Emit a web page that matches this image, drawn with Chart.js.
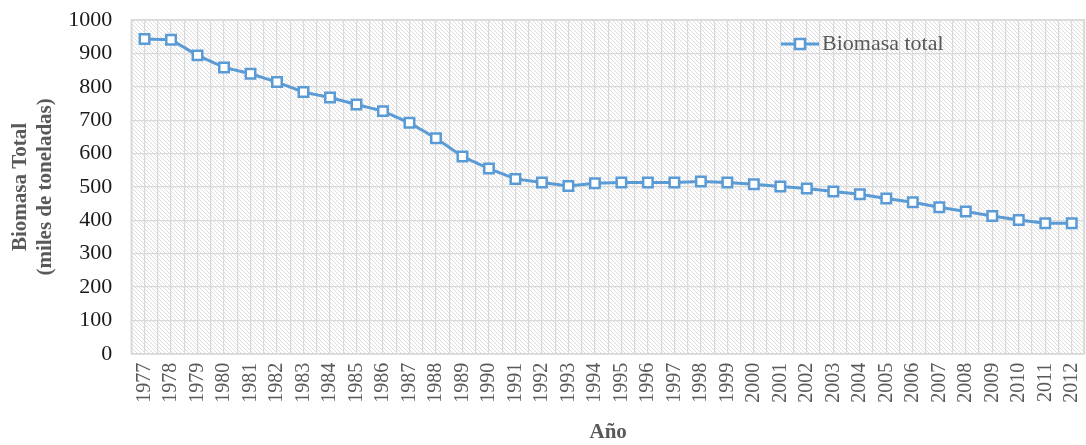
<!DOCTYPE html>
<html>
<head>
<meta charset="utf-8">
<script src="https://cdn.jsdelivr.net/npm/chart.js@4.4.1/dist/chart.umd.min.js"></script>
<style>
  html, body { margin: 0; padding: 0; background: #fff; }
  #wrap { width: 1086px; height: 445px; }
</style>
</head>
<body>
<div id="wrap"><canvas id="chart"></canvas></div>
<script>
// ==========================================
// Data
// ==========================================
const YEARS = [
  1977, 1978, 1979, 1980, 1981, 1982, 1983, 1984, 1985, 1986,
  1987, 1988, 1989, 1990, 1991, 1992, 1993, 1994, 1995, 1996,
  1997, 1998, 1999, 2000, 2001, 2002, 2003, 2004, 2005, 2006,
  2007, 2008, 2009, 2010, 2011, 2012
];
const BIOMASA = [
  943, 941, 894, 858, 839, 814, 784, 768, 747, 727,
  692, 646, 591, 555, 524, 513, 503, 511, 513, 513,
  513, 516, 513, 508, 501, 495, 486, 478, 465, 454,
  439, 426, 413, 401, 391, 391
];
const SERIES_LABEL = 'Biomasa total';
const Y_TITLE = ['Biomasa Total', '(miles de toneladas)'];
const X_TITLE = 'Año';

const BLUE = '#5B9BD5';
const GRID = '#d9d9d9';
const GREY_TEXT = '#595959';
const SERIF = "'Liberation Serif', 'Times New Roman', serif";

// ==========================================
// Plugins: fondo rayado, marco, leyenda interior
// ==========================================
function hatchPattern(ctx) {
  const c = document.createElement('canvas');
  c.width = 4; c.height = 4;
  const p = c.getContext('2d');
  p.fillStyle = '#ffffff';
  p.fillRect(0, 0, 4, 4);
  p.strokeStyle = '#dddddd';
  p.lineWidth = 1;
  p.beginPath();
  p.moveTo(-1, -1); p.lineTo(5, 5);
  p.moveTo(-1, 3); p.lineTo(1, 5);
  p.moveTo(3, -1); p.lineTo(5, 1);
  p.stroke();
  return ctx.createPattern(c, 'repeat');
}

const plotBackground = {
  id: 'plotBackground',
  beforeDraw(chart) {
    const { ctx, chartArea: a } = chart;
    ctx.save();
    ctx.fillStyle = hatchPattern(ctx);
    ctx.fillRect(a.left, a.top, a.width, a.height);
    ctx.restore();
  },
  beforeDatasetsDraw(chart) {
    const { ctx, chartArea: a } = chart;
    ctx.save();
    ctx.strokeStyle = GRID;
    ctx.lineWidth = 1.5;
    ctx.strokeRect(a.left, a.top, a.width - 1, a.height);
    ctx.restore();
  }
};

const innerLegend = {
  id: 'innerLegend',
  afterDraw(chart) {
    const { ctx } = chart;
    const ds = chart.data.datasets[0];
    const x = 781, y = 44;
    ctx.save();
    ctx.strokeStyle = ds.borderColor;
    ctx.lineWidth = 3;
    ctx.beginPath();
    ctx.moveTo(x, y); ctx.lineTo(x + 38, y);
    ctx.stroke();
    ctx.fillStyle = '#fff';
    ctx.lineWidth = 2.5;
    ctx.fillRect(x + 14, y - 5, 10, 10);
    ctx.strokeRect(x + 14, y - 5, 10, 10);
    ctx.fillStyle = GREY_TEXT;
    ctx.font = '22px ' + SERIF;
    ctx.textBaseline = 'middle';
    ctx.fillText(ds.label, x + 41, y);
    ctx.restore();
  }
};

// ==========================================
// Chart
// ==========================================
const points = YEARS.map((yr, i) => ({ x: yr, y: BIOMASA[i] }));

new Chart(document.getElementById('chart'), {
  type: 'line',
  data: {
    datasets: [{
      label: SERIES_LABEL,
      data: points,
      borderColor: BLUE,
      borderWidth: 3,
      tension: 0,
      pointStyle: 'rect',
      pointRadius: 6.7,
      pointBorderWidth: 2.5,
      pointBorderColor: BLUE,
      pointBackgroundColor: '#ffffff',
      fill: false
    }]
  },
  options: {
    responsive: true,
    maintainAspectRatio: false,
    animation: false,
    layout: { autoPadding: false, padding: { top: 20, right: 1, left: 9, bottom: 0 } },
    plugins: {
      legend: { display: false },
      tooltip: { enabled: false }
    },
    scales: {
      x: {
        type: 'linear',
        min: YEARS[0] - 0.5,
        max: YEARS[YEARS.length - 1] + 0.5,
        afterFit(scale) { scale.paddingLeft = 0; scale.paddingRight = 0; },
        grid: { color: GRID, drawTicks: false, lineWidth: 1.2 },
        border: { color: GRID, width: 1.5 },
        ticks: {
          stepSize: 0.5,
          color: GREY_TEXT,
          font: { family: SERIF, size: 20 },
          minRotation: 90, maxRotation: 90,
          autoSkip: false,
          padding: 9,
          callback: (v) => Number.isInteger(v) ? String(v) : ''
        },
        title: {
          display: true, text: X_TITLE, color: GREY_TEXT,
          font: { family: SERIF, size: 21, weight: 'bold' },
          padding: { top: 8, bottom: 0 }
        }
      },
      y: {
        min: 0, max: 1000,
        afterFit(scale) { scale.paddingTop = 0; scale.paddingBottom = 0; },
        grid: { color: GRID, drawTicks: false, lineWidth: 1.2 },
        border: { color: GRID, width: 1.5 },
        ticks: {
          stepSize: 100,
          color: '#1a1a1a',
          font: { family: SERIF, size: 22 },
          padding: 19,
          callback: (v) => String(v)
        },
        title: {
          display: true, text: Y_TITLE, color: GREY_TEXT,
          font: { family: SERIF, size: 21, weight: 'bold', lineHeight: 1.15 },
          padding: { top: 0, bottom: -8 }
        }
      }
    }
  },
  plugins: [plotBackground, innerLegend]
});
</script>
</body>
</html>
